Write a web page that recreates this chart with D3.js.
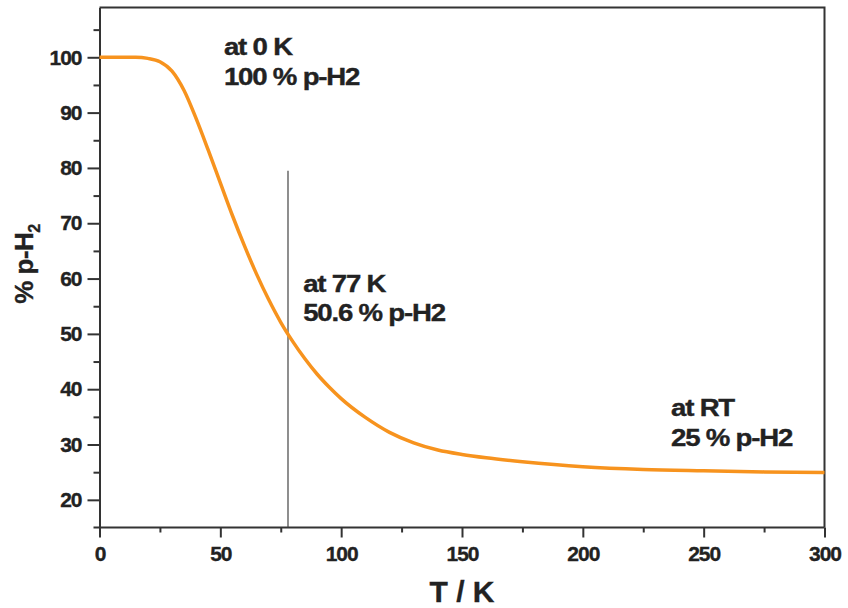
<!DOCTYPE html>
<html>
<head>
<meta charset="utf-8">
<script src="https://cdn.jsdelivr.net/npm/d3@7"></script>
<style>
	body { margin: 0; background: #fff; }
	svg text { font-family: "Liberation Sans", Arial, sans-serif; font-weight: bold; fill: #222; stroke: #222; stroke-width: 0.35px; }
</style>
</head>
<body>
<div id="chart"></div>
<script>
/* equilibrium para-hydrogen fraction vs temperature */

// temperature (K) and % p-H2
var temps = [0, 10, 15, 20, 25, 30, 35, 40, 45, 50, 55, 60, 65, 70, 75, 80, 85, 90, 95,
	100, 110, 120, 130, 140, 150, 160, 175, 200, 225, 250, 275, 300];
var para = [100, 100, 100, 99.8, 99.2, 97.5, 94.0, 88.9, 83.2, 77.3, 71.4, 65.9, 60.8, 56.2, 52.1, 48.6, 45.5, 42.75, 40.4,
	38.3, 34.9, 32.2, 30.3, 29.0, 28.2, 27.6, 26.9, 26.0, 25.5, 25.25, 25.05, 24.95];

// axis ticks
var xTicks = [0, 50, 100, 150, 200, 250, 300];
var xMinor = [25, 75, 125, 175, 225, 275];
var yTicks = [20, 30, 40, 50, 60, 70, 80, 90, 100];
var yMinor = [25, 35, 45, 55, 65, 75, 85, 95, 105];

// marker line at 77 K and the notes
var markerT = 78;
var markerTop = 79.5;
var noteLines = [
	["at 0 K", "100 % p-H2"],
	["at 77 K", "50.6 % p-H2"],
	["at RT", "25 % p-H2"]
];
var notePos = [[51.5, 100.4], [84.3, 57.6], [236.5, 35.1]]; // [T, %] of first baseline

var width = 848, height = 608;
var margin = {top: 7.5, right: 23.5, bottom: 80.5, left: 99.5};

var svg = d3.select("#chart").append("svg")
	.attr("width", width)
	.attr("height", height);

var x = d3.scaleLinear()
	.domain([0, 300])
	.range([margin.left, width - margin.right]);

var y = d3.scaleLinear()
	.domain([15, 109])
	.range([height - margin.bottom, margin.top]);

// frame (top + right)
svg.append("path")
	.attr("d", `M${x(0)},${y(109)}H${x(300)}V${y(15)}`)
	.attr("fill", "none")
	.attr("stroke", "#333")
	.attr("stroke-width", 2);

// minor ticks first, then the major axes on top
svg.append("g")
	.attr("transform", `translate(0,${y(15)})`)
	.call(d3.axisBottom(x).tickValues(xMinor).tickSize(5).tickFormat(""))
	.call(g => g.select(".domain").remove());

svg.append("g")
	.attr("transform", `translate(${x(0)},0)`)
	.call(d3.axisLeft(y).tickValues(yMinor).tickSize(6).tickFormat(""))
	.call(g => g.select(".domain").remove());

var xAxis = svg.append("g")
	.attr("transform", `translate(0,${y(15)})`)
	.call(d3.axisBottom(x).tickValues(xTicks).tickSize(10).tickPadding(6).tickSizeOuter(0));

var yAxis = svg.append("g")
	.attr("transform", `translate(${x(0)},0)`)
	.call(d3.axisLeft(y).tickValues(yTicks).tickSize(12).tickPadding(6).tickSizeOuter(0));

// x axis line runs a little past the y axis
xAxis.select(".domain").attr("d", `M${x(0) - 6},0H${x(300)}`);

svg.selectAll(".tick line, .domain")
	.attr("stroke", "#333")
	.attr("stroke-width", 2);

svg.selectAll(".tick text")
	.style("font-size", "21px")
	.style("letter-spacing", "-1px")
	.attr("fill", "#222");

xAxis.selectAll(".tick text").attr("dy", "0.85em");

// marker line
svg.append("line")
	.attr("x1", x(markerT)).attr("x2", x(markerT))
	.attr("y1", y(markerTop)).attr("y2", y(15))
	.attr("stroke", "#444")
	.attr("stroke-width", 1.2);

// curve
var line = d3.line()
	.x(d => x(d[0]))
	.y(d => y(d[1]))
	.curve(d3.curveMonotoneX);

svg.append("path")
	.datum(d3.zip(temps, para))
	.attr("d", line)
	.attr("fill", "none")
	.attr("stroke", "#f7931e")
	.attr("stroke-width", 3.5);

// notes (wide set type)
noteLines.forEach((lines, i) => {
	var g = svg.append("g")
		.attr("transform", `translate(${x(notePos[i][0])},${y(notePos[i][1])}) scale(1.2,1)`);
	lines.forEach((t, j) => {
		g.append("text")
			.attr("y", j * 29.5)
			.style("font-size", "23px")
			.style("letter-spacing", "-1px")
			.text(t);
	});
});

// axis titles
svg.append("text")
	.attr("x", (x(0) + x(300)) / 2)
	.attr("y", 602)
	.attr("text-anchor", "middle")
	.style("font-size", "30px")
	.text("T / K");

var yl = svg.append("text")
	.attr("transform", `translate(33,264) rotate(-90)`)
	.attr("text-anchor", "middle")
	.style("font-size", "26px")
	.style("letter-spacing", "-0.5px");
yl.append("tspan").text("% p-H");
yl.append("tspan").attr("dy", 7).style("font-size", "16px").text("2");
</script>
</body>
</html>
